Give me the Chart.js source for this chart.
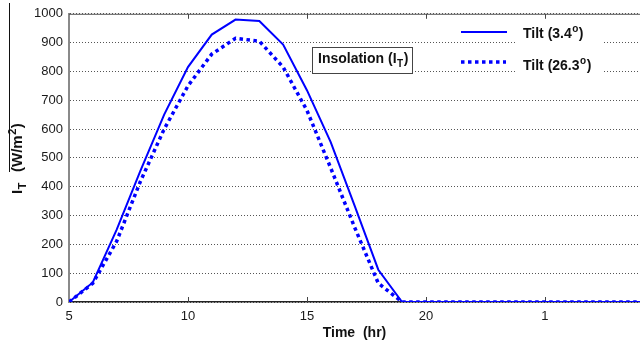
<!DOCTYPE html>
<html>
<head>
<meta charset="utf-8">
<script src="https://cdn.jsdelivr.net/npm/chart.js@4"></script>
<style>
  html, body { margin: 0; padding: 0; background: #fff; }
  #wrap { width: 640px; height: 343px; }
</style>
</head>
<body>
<div id="wrap"><canvas id="grafica"></canvas></div>
<script>
// datos
const horas = [5, 6, 7, 8, 9, 10, 11, 12, 13, 14, 15, 16, 17, 18, 19, 20, 21, 22, 23, 24, 25, 26, 27, 28, 29];
const tilt34 = [0, 68, 250, 455, 650, 815, 928, 980, 975, 893, 735, 555, 335, 112, 0, 0, 0, 0, 0, 0, 0, 0, 0, 0, 0];
const tilt263 = [0, 65, 210, 418, 600, 750, 860, 915, 905, 815, 665, 465, 260, 65, 0, 0, 0, 0, 0, 0, 0, 0, 0, 0, 0];
const xTickValues = [5, 10, 15, 20, 25];
const xTickLabels = ['5', '10', '15', '20', '1'];
const serieNombres = ['Tilt (3.4', 'Tilt (26.3'];

const FONT = 'Liberation Sans, Arial, sans-serif';
const AZUL = '#0000ff';

function puntos(vals) {
  return horas.map((h, i) => ({ x: h, y: vals[i] }));
}

const decor = {
  id: 'decor',
  beforeDatasetsDraw(chart) {
    const { ctx, chartArea: a, scales: { x } } = chart;
    ctx.save();
    // linea superior del marco
    ctx.strokeStyle = '#555';
    ctx.lineWidth = 1;
    ctx.beginPath();
    ctx.moveTo(a.left, a.top + 0.5);
    ctx.lineTo(a.right, a.top + 0.5);
    ctx.stroke();
    // marcas de los ticks
    ctx.strokeStyle = '#444';
    ctx.beginPath();
    xTickValues.slice(1).forEach(v => {
      const px = Math.round(x.getPixelForValue(v)) + 0.5;
      ctx.moveTo(px, a.bottom);
      ctx.lineTo(px, a.bottom - 5);
      ctx.moveTo(px, a.top);
      ctx.lineTo(px, a.top + 5);
    });
    ctx.stroke();
    ctx.restore();
  },
  afterDraw(chart) {
    const ctx = chart.ctx;
    ctx.save();
    ctx.fillStyle = '#111';
    ctx.textBaseline = 'middle';

    // leyenda
    ctx.fillStyle = '#fff';
    ctx.fillRect(517, 20, 85, 60);
    ctx.strokeStyle = AZUL;
    ctx.lineWidth = 2;
    ctx.beginPath();
    ctx.moveTo(461, 32);
    ctx.lineTo(507, 32);
    ctx.stroke();
    ctx.lineWidth = 3.5;
    ctx.setLineDash([3.5, 3.5]);
    ctx.beginPath();
    ctx.moveTo(461, 62);
    ctx.lineTo(506, 62);
    ctx.stroke();
    ctx.setLineDash([]);

    function conGrado(txt, x, y) {
      ctx.fillStyle = '#111';
      ctx.font = 'bold 14px ' + FONT;
      ctx.fillText(txt, x, y);
      let w = ctx.measureText(txt).width;
      ctx.font = 'bold 10px ' + FONT;
      ctx.fillText('o', x + w + 0.5, y - 5);
      w += ctx.measureText('o').width + 1;
      ctx.font = 'bold 14px ' + FONT;
      ctx.fillText(')', x + w, y);
    }
    conGrado(serieNombres[0], 523, 34);
    conGrado(serieNombres[1], 523, 66);

    // caja Insolation
    ctx.fillStyle = '#fff';
    ctx.fillRect(312, 47, 100, 26);
    ctx.strokeStyle = '#444';
    ctx.lineWidth = 1;
    ctx.strokeRect(312.5, 47.5, 100, 26);
    ctx.fillStyle = '#111';
    ctx.font = 'bold 14px ' + FONT;
    ctx.fillText('Insolation (I', 318, 59);
    let w = ctx.measureText('Insolation (I').width;
    ctx.font = 'bold 10px ' + FONT;
    ctx.fillText('T', 318 + w + 0.5, 64);
    w += ctx.measureText('T').width + 1;
    ctx.font = 'bold 14px ' + FONT;
    ctx.fillText(')', 318 + w, 59);

    // titulo eje y
    ctx.strokeStyle = '#111';
    ctx.lineWidth = 1;
    ctx.beginPath();
    ctx.moveTo(9.5, 3);
    ctx.lineTo(9.5, 172);
    ctx.stroke();

    ctx.translate(22, 194);
    ctx.rotate(-Math.PI / 2);
    ctx.textBaseline = 'alphabetic';
    ctx.font = 'bold 15px ' + FONT;
    ctx.fillText('I', 0, 0);
    let p = ctx.measureText('I').width + 0.5;
    ctx.font = 'bold 11px ' + FONT;
    ctx.fillText('T', p, 4);
    p = 22;
    ctx.font = 'bold 15px ' + FONT;
    ctx.fillText('(W/m', p, 0);
    p += ctx.measureText('(W/m').width + 0.5;
    ctx.font = 'bold 11px ' + FONT;
    ctx.fillText('2', p, -6);
    p += ctx.measureText('2').width + 0.5;
    ctx.font = 'bold 15px ' + FONT;
    ctx.fillText(')', p, 0);
    ctx.restore();
  }
};

new Chart(document.getElementById('grafica'), {
  type: 'line',
  data: {
    datasets: [
      {
        label: 'Tilt (3.4°)',
        data: puntos(tilt34),
        borderColor: AZUL,
        borderWidth: 2,
        pointRadius: 0,
        tension: 0,
        fill: false
      },
      {
        label: 'Tilt (26.3°)',
        data: puntos(tilt263),
        borderColor: AZUL,
        borderWidth: 3.5,
        borderDash: [3.5, 3.5],
        pointRadius: 0,
        tension: 0,
        fill: false
      }
    ]
  },
  options: {
    responsive: true,
    maintainAspectRatio: false,
    animation: false,
    layout: { padding: { top: 10, right: 0, left: 0, bottom: 0 } },
    plugins: {
      legend: { display: false },
      tooltip: { enabled: false }
    },
    scales: {
      x: {
        type: 'linear',
        min: 5,
        max: 29,
        afterBuildTicks: s => { s.ticks = xTickValues.map(v => ({ value: v })); },
        afterFit: s => { s.height = 41; },
        grid: { display: false, drawTicks: false },
        border: { display: true, color: '#222', width: 1.5 },
        ticks: {
          padding: 7,
          color: '#1a1a1a',
          font: { family: FONT, size: 13 },
          maxRotation: 0,
          callback: (v, i) => xTickLabels[i]
        },
        title: {
          display: true,
          text: 'Time  (hr)',
          color: '#111',
          font: { family: FONT, size: 14, weight: 'bold' },
          padding: { top: 0, bottom: 1 }
        }
      },
      y: {
        min: 0,
        max: 1000,
        afterFit: s => { s.width = 69; },
        grid: { color: '#555', lineWidth: 1, drawTicks: false },
        border: { display: true, color: '#8a8a8a', width: 2, dash: [1, 2] },
        ticks: {
          stepSize: 100,
          padding: 6,
          color: '#1a1a1a',
          font: { family: FONT, size: 13 },
          callback: v => String(v)
        }
      }
    }
  },
  plugins: [decor]
});
</script>
</body>
</html>
